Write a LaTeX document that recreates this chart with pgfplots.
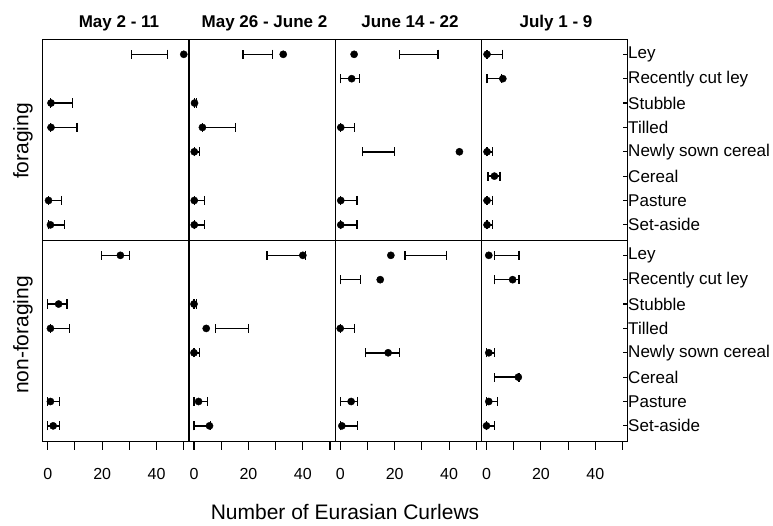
\documentclass[border=0pt]{standalone}
\usepackage{fontspec}
\setmainfont{Liberation Sans}
\usepackage{pgfplots}
\usepackage{pgfplotstable}
\pgfplotsset{compat=1.18}

% foraging
\pgfplotstableread{
y p lo hi
1 50.0 30.8 44.1
3 1.2 1.0 9.1
4 1.2 1.0 10.8
7 0.3 0.3 5.0
8 1.0 0.3 6.1
}\FaA
\pgfplotstableread{
y p lo hi
1 32.8 18.0 28.9
3 0.2 0.2 1.0
4 3.1 3.1 15.2
5 0.1 0.1 2.0
7 0.1 0.1 3.9
8 0.1 0.1 3.9
}\FaB
\pgfplotstableread{
y p lo hi
1 5.1 21.8 35.9
2 4.2 0.2 7.1
4 0.2 0.2 5.3
5 43.8 8.1 19.9
7 0.2 0.2 6.1
8 0.2 0.2 6.1
}\FaC
\pgfplotstableread{
y p lo hi
1 0.2 0.2 5.9
2 6.0 0.2 5.5
5 0.2 0.2 2.1
6 2.9 0.5 4.9
7 0.2 0.2 2.1
8 0.2 0.2 2.1
}\FaD
% non-foraging
\pgfplotstableread{
y p lo hi
1 26.7 19.7 30.0
3 4.0 0.0 7.1
4 1.0 1.0 8.1
7 1.0 0.0 4.3
8 2.0 0.0 4.3
}\NaA
\pgfplotstableread{
y p lo hi
1 40.0 26.9 41.0
3 0.0 0.0 1.0
4 4.5 7.8 20.1
5 0.0 0.0 2.0
7 1.7 0.0 4.9
8 5.7 0.0 6.0
}\NaB
\pgfplotstableread{
y p lo hi
1 18.6 23.8 39.0
2 14.7 0.0 7.4
4 0.0 0.0 5.3
5 17.6 9.2 21.8
7 4.0 0.0 6.4
8 0.6 0.0 6.4
}\NaC
\pgfplotstableread{
y p lo hi
1 0.85 2.9 11.9
2 9.6 2.9 11.9
5 0.85 0.0 2.9
6 11.7 2.9 12.0
7 0.85 0.0 4.1
8 0.0 0.0 2.9
}\NaD

\pgfplotsset{
  panel/.style={
    scale only axis, width=146.25pt, height=201pt, anchor=south west,
    xmin=-1.85, xmax=51.9, ymin=0.4, ymax=8.65, y dir=reverse,
    axis line style={line width=1.1pt},
    xtick=\empty, ytick=\empty,
    tick align=outside, major tick length=8pt,
    tick style={line width=1.1pt, black},
    /pgf/number format/assume math mode=true,
  },
  bottomrow/.style={
    xtick={0,10,...,50}, xticklabels={0,,20,,40,},
    xtick pos=bottom,
    xticklabel style={font=\fontsize{16}{16}\selectfont, yshift=-15pt},
  },
  rightcol/.style={
    ytick={1,...,8},
    yticklabels={Ley,Recently cut ley,Stubble,Tilled,Newly sown cereal,Cereal,Pasture,Set-aside},
    ytick pos=right, yticklabel pos=right,
    ytick style={draw=none},
    yticklabel style={font=\fontsize{17}{17}\selectfont, anchor=west, xshift=-11pt},
  },
}

\newcommand{\panelplots}[1]{%
  \addplot[draw=none, mark=none,
    error bars/.cd, x dir=both, x explicit, error mark=|,
    error bar style={draw=black, line width=1.5pt, solid},
    error mark options={draw=black, mark size=4.6pt, line width=1.4pt, solid}]
    table[x expr=(\thisrow{lo}+\thisrow{hi})/2, y=y,
          x error expr=(\thisrow{hi}-\thisrow{lo})/2] {#1};
  \addplot[only marks, mark=*, mark size=3.6pt, black] table[x=p, y=y] {#1};
}
\newcommand{\rightticks}{%
  \pgfplotsinvokeforeach{1,...,8}{\draw[line width=1.1pt, black] (axis cs:51.9,##1) -- (axis cs:50.1,##1);}%
}

\begin{document}
\begin{tikzpicture}[x=1pt,y=1pt]
\path[use as bounding box] (0,0) rectangle (773,525);

% top row (foraging)
\begin{axis}[panel, at={(42.7pt,284.3pt)}]
\panelplots{\FaA}
\end{axis}
\begin{axis}[panel, at={(188.95pt,284.3pt)}]
\panelplots{\FaB}
\end{axis}
\begin{axis}[panel, at={(335.2pt,284.3pt)}]
\panelplots{\FaC}
\end{axis}
\begin{axis}[panel, rightcol, at={(481.45pt,284.3pt)}]
\panelplots{\FaD}
\rightticks
\end{axis}

% bottom row (non-foraging)
\begin{axis}[panel, bottomrow, at={(42.7pt,83.3pt)}]
\panelplots{\NaA}
\end{axis}
\begin{axis}[panel, bottomrow, at={(188.95pt,83.3pt)}]
\panelplots{\NaB}
\end{axis}
\begin{axis}[panel, bottomrow, at={(335.2pt,83.3pt)}]
\panelplots{\NaC}
\end{axis}
\begin{axis}[panel, bottomrow, rightcol, at={(481.45pt,83.3pt)}]
\panelplots{\NaD}
\rightticks
\end{axis}

% column titles
\foreach \xx/\tt in {119/{May 2 - 11}, 264.5/{May 26 - June 2}, 410/{June 14 - 22}, 556/{July 1 - 9}}
  \node[font=\fontsize{17}{17}\selectfont\bfseries, anchor=base] at (\xx,497.7) {\tt};

% row strips
\node[rotate=90, font=\fontsize{21}{21}\selectfont] at (23,384) {foraging};
\node[rotate=90, font=\fontsize{21}{21}\selectfont] at (23,190) {non-foraging};

% x label
\node[font=\fontsize{21}{21}\selectfont] at (345,13.5) {Number of Eurasian Curlews};
\end{tikzpicture}
\end{document}
